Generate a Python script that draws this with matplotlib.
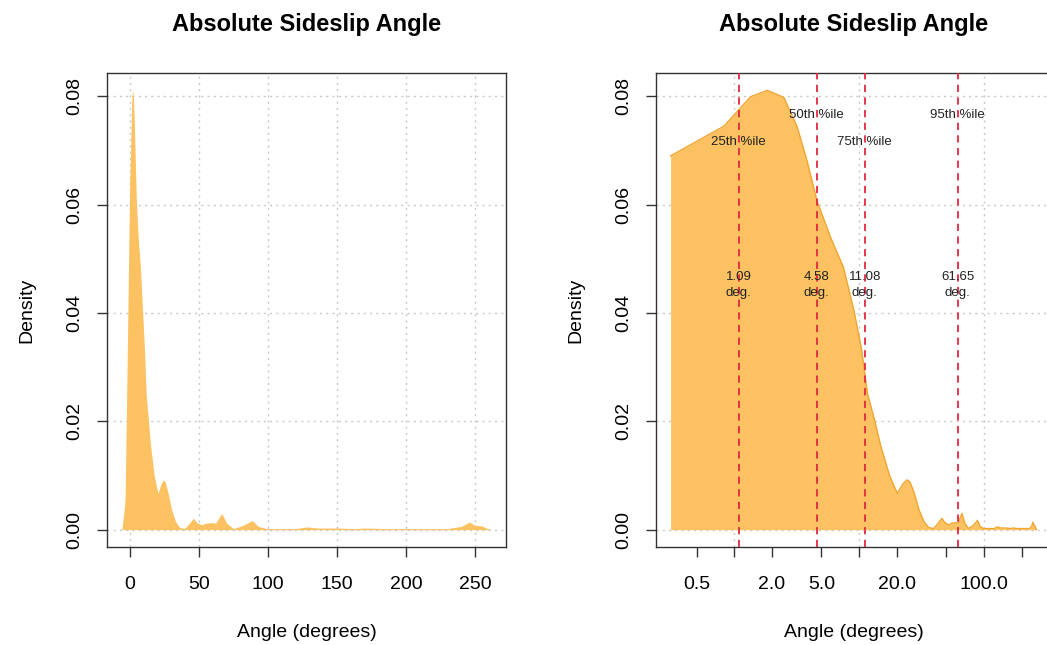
import numpy as np
import matplotlib.pyplot as plt
from matplotlib.ticker import FixedLocator, FixedFormatter, NullLocator

plt.rcParams['font.family'] = ['Liberation Sans', 'DejaVu Sans']

# kernel density of absolute sideslip angle
angle = [-6.0, -4.5, -3.6, -2.4, -1.2, -0.2, 0.31, 0.83, 1.35, 1.84, 2.5, 3.2,
         3.84, 4.6, 5.9, 7.5, 9.1, 10.4, 11.7, 13.2, 14.8, 17.5, 20.2, 22.5,
         24.2, 25.5, 27.4, 30, 33, 36, 39.4, 43, 45.9, 48.5, 52, 55, 58.8, 62,
         66.5, 70, 75, 82, 88.5, 93, 99, 120, 128, 136, 150, 162, 170, 187,
         205, 230, 240, 246, 250, 255, 258, 262]
density = [0.0, 0.003, 0.0055, 0.025, 0.047, 0.064, 0.069, 0.0745, 0.0799,
           0.0811, 0.0798, 0.0743, 0.068, 0.0607, 0.054, 0.0484, 0.0404, 0.0336,
           0.025, 0.0205, 0.0157, 0.010, 0.0067, 0.0085, 0.0092, 0.0088, 0.007,
           0.0038, 0.0015, 0.0004, 0.0002, 0.0012, 0.0021, 0.0013, 0.0009,
           0.0012, 0.0013, 0.0012, 0.003, 0.0012, 0.0002, 0.0008, 0.0017,
           0.0006, 0.0002, 0.0002, 0.0005, 0.0003, 0.0003, 0.0002, 0.0003,
           0.0002, 0.0002, 0.0002, 0.0006, 0.0014, 0.0008, 0.0007, 0.0003, 0.0]

pct_names = ['25th %ile', '50th %ile', '75th %ile', '95th %ile']
pct_values = [1.09, 4.58, 11.08, 61.65]
pct_label_y = [0.0715, 0.0765, 0.0715, 0.0765]

fill_col = '#FCC262'
edge_col = '#F2A531'
red = '#E2283F'
grid_col = '#C8C8C8'

angle = np.array(angle)
density = np.array(density)

fig = plt.figure(figsize=(10.47, 6.45), dpi=100)
W, H = 1047, 645

def place(x0, x1, y0, y1):
    return [x0 / W, 1 - y1 / H, (x1 - x0) / W, (y1 - y0) / H]

ax1 = fig.add_axes(place(107, 506, 73, 547))
ax2 = fig.add_axes(place(656, 1051, 73, 547))

for ax in (ax1, ax2):
    for s in ax.spines.values():
        s.set_linewidth(1.0)
        s.set_color('#333333')
    ax.tick_params(labelsize=14, length=7, width=1, color='#333333')
    ax.tick_params(axis='x', pad=14)
    ax.tick_params(axis='y', pad=10)
    ax.set_ylim(-0.0032, 0.0843)
    ax.set_yticks([0, 0.02, 0.04, 0.06, 0.08])
    ax.set_yticklabels(['0.00', '0.02', '0.04', '0.06', '0.08'], rotation=90, va='center')
    ax.set_xlabel('Angle (degrees)', fontsize=14, labelpad=22)
    ax.set_ylabel('Density', fontsize=14, labelpad=22)
    ax.set_title('Absolute Sideslip Angle', fontsize=17, fontweight='bold', pad=30)
    for y in [0, 0.02, 0.04, 0.06, 0.08]:
        ax.axhline(y, color=grid_col, lw=1, ls=(0, (1.5, 3)), zorder=0)

# left panel: linear axis
ax1.set_xlim(-16.7, 272.5)
ax1.set_xticks([0, 50, 100, 150, 200, 250])
for x in [0, 50, 100, 150, 200, 250]:
    ax1.axvline(x, color=grid_col, lw=1, ls=(0, (1.5, 3)), zorder=0)
ax1.fill_between(angle, density, 0, color=fill_col, lw=0, zorder=2)

# right panel: log axis
pos = angle > 0
ax2.set_xscale('log')
ax2.set_xlim(0.237, 343)
ax2.xaxis.set_major_locator(FixedLocator([0.5, 1, 2, 5, 10, 20, 50, 100, 200]))
ax2.xaxis.set_major_formatter(FixedFormatter(['0.5', '', '2.0', '5.0', '', '20.0', '', '100.0', '']))
ax2.xaxis.set_minor_locator(NullLocator())
for x in [1, 10, 100]:
    ax2.axvline(x, color=grid_col, lw=1, ls=(0, (1.5, 3)), zorder=0)
ax2.fill_between(angle[pos], density[pos], 0, color=fill_col, lw=0, zorder=2)
ax2.plot(angle[pos], density[pos], color=edge_col, lw=1, zorder=3)

for name, v, ly in zip(pct_names, pct_values, pct_label_y):
    ax2.axvline(v, color=red, lw=1.3, ls=(0, (4, 3)), zorder=4)
    ax2.text(v, ly, name, fontsize=9.5, ha='center', va='center', color='#222222', zorder=5)
    ax2.text(v, 0.0452, '%.2f\ndeg.' % v, fontsize=9.5, ha='center', va='center',
             color='#222222', linespacing=1.5, zorder=5)

fig.savefig('out.png', dpi=100)
